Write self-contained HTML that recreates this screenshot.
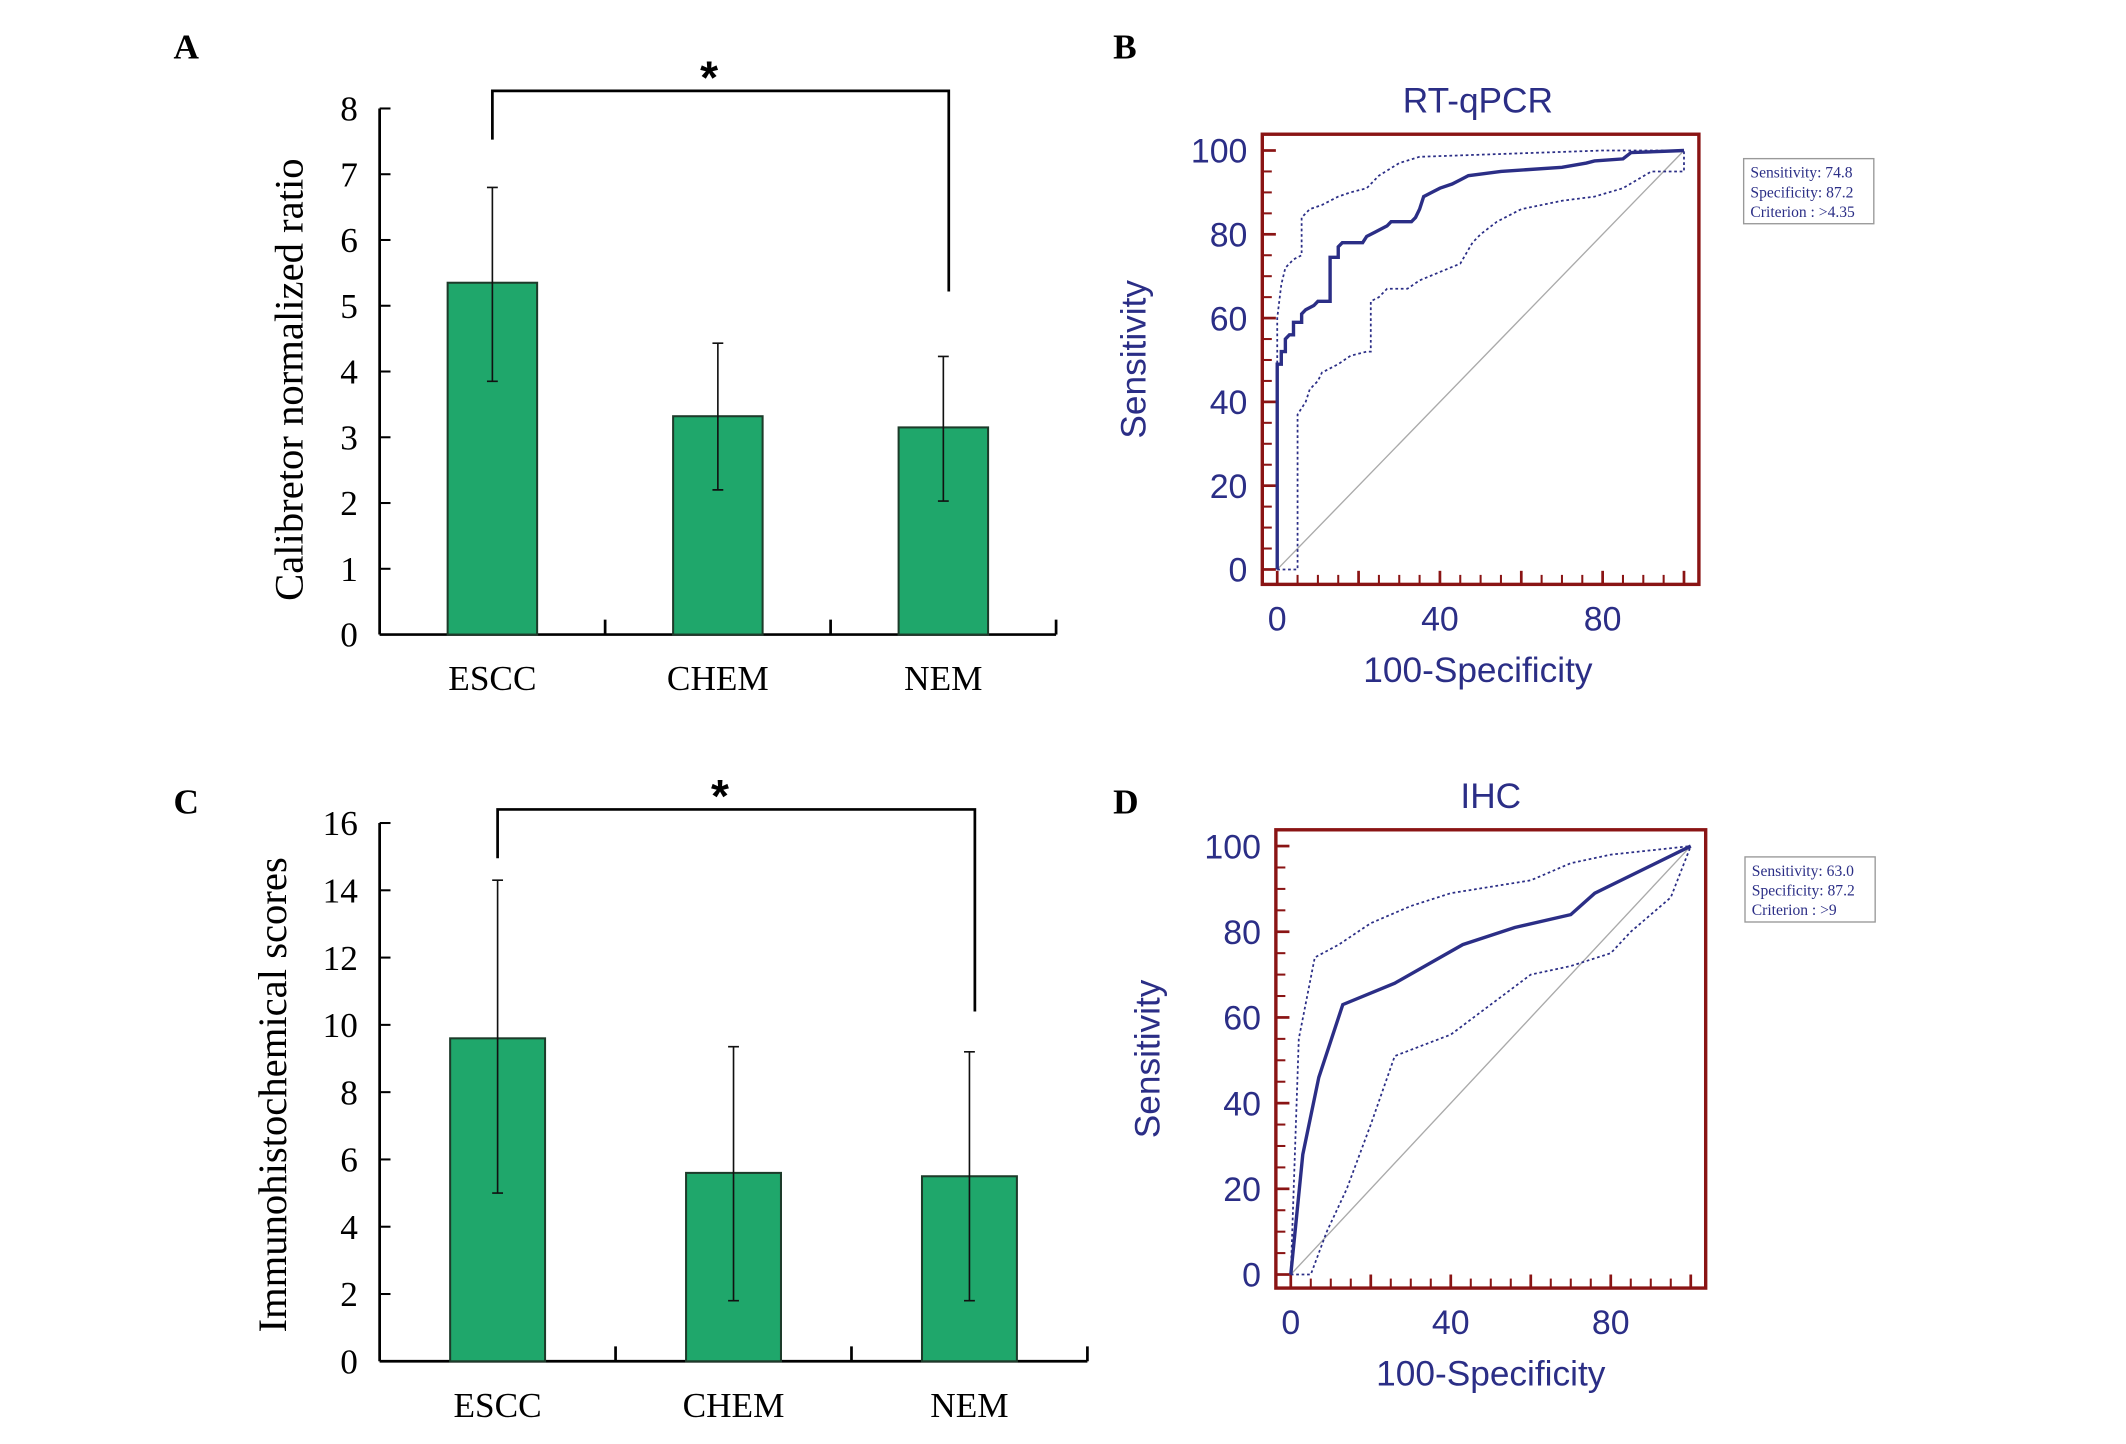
<!DOCTYPE html>
<html><head><meta charset="utf-8"><style>
html,body{margin:0;padding:0;background:#fff;}
svg{display:block;}
.serif{font-family:"Liberation Serif",serif;}
.sans{font-family:"Liberation Sans",sans-serif;}
</style></head><body>
<svg id="fig" width="2126" height="1444" viewBox="0 0 1568 1065" preserveAspectRatio="none" xmlns="http://www.w3.org/2000/svg">
<rect width="1568" height="1065" fill="#fff"/>
<text class="serif" x="128" y="43" font-size="26" font-weight="bold">A</text>
<text class="serif" x="821" y="43" font-size="26" font-weight="bold">B</text>
<text class="serif" x="128" y="600" font-size="26" font-weight="bold">C</text>
<text class="serif" x="821" y="600" font-size="26" font-weight="bold">D</text>
<g id="gA"></g>
<g id="gC"></g>
<g id="gB"></g>
<g id="gD"></g>
</svg>
<script>
// Panel A data
const catsA = ["ESCC","CHEM","NEM"];
const valsA = [5.35, 3.32, 3.15];
const errLoA = [3.85, 2.2, 2.03];
const errHiA = [6.8, 4.43, 4.23];
const ticksA = [0,1,2,3,4,5,6,7,8];
// Panel C data
const catsC = ["ESCC","CHEM","NEM"];
const valsC = [9.6, 5.6, 5.5];
const errLoC = [5.0, 1.8, 1.8];
const errHiC = [14.3, 9.35, 9.2];
const ticksC = [0,2,4,6,8,10,12,14,16];
// Panel B ROC data
const rocBx = [0,0,1,1,2,2,3,4,4,6,6,7,9,10,13,13,15,15,16,21,22,24,25,27,28,33,34,35,36,38,40,43,45,47,51,55,70,76,78,85,87,100];
const rocBy = [0,49,49,52,52,55,56,56,59,59,61,62,63,64,64,74.5,74.5,77,78,78,79.5,80.5,81,82,83,83,84,86,89,90,91,92,93,94,94.5,95,96,97,97.5,98,99.5,100];
const upBx = [0,0,1,2,4,6,6,8,11,15,18,22,25,30,35,50,80,100];
const upBy = [0,60,68,72,74,75,84,86,87,89,90,91,94,97,98.5,99,100,100];
const loBx = [0,5,5,7,8,10,11,15,18,22,23,23,25,27,32,35,40,45,48,50,54,60,70,78,85,92,100,100];
const loBy = [0,0,37,40,43,45,47,49,51,52,52,64,65,67,67,69,71,73,78,80,83,86,88,89,91,95,95,100];
// Panel D ROC data
const rocDx = [0,3,7,13,26,43,56,70,76,100];
const rocDy = [0,28,46,63,68,77,81,84,89,100];
const upDx = [0,2,6,12,20,30,40,60,70,80,100];
const upDy = [0,55,74,77,82,86,89,92,96,98,100];
const loDx = [0,5,9,14,20,26,40,50,60,70,80,85,95,100];
const loDy = [0,0,10,20,35,51,56,63,70,72,75,80,88,100];
const rocTicks = [0,20,40,60,80,100];
const rocXTicks = [0,40,80];

const NS="http://www.w3.org/2000/svg";
function mk(parent,tag,attrs,text){const e=document.createElementNS(NS,tag);for(const k in attrs)e.setAttribute(k,attrs[k]);if(text!==undefined)e.textContent=text;parent.appendChild(e);return e;}

function barChart(gid,cfg,cats,vals,lo,hi,ticks){
  const g=document.getElementById(gid);
  const yS=v=>cfg.y0-(v-cfg.vmin)*(cfg.y0-cfg.ytop)/(cfg.vmax-cfg.vmin);
  const xS=i=>cfg.x0+cfg.step*(i+0.5);
  let l=mk(g,'line',{x1:cfg.x0,y1:cfg.ytop,x2:cfg.x0,y2:cfg.y0,stroke:'#000','stroke-width':2});
  
  
  l=mk(g,'line',{x1:cfg.x0,y1:cfg.y0,x2:cfg.x0+cfg.step*cats.length,y2:cfg.y0,stroke:'#000','stroke-width':2});
  
  
  for(let i=1;i<=cats.length;i++){
    mk(g,'line',{x1:cfg.x0+cfg.step*i,y1:cfg.y0,x2:cfg.x0+cfg.step*i,y2:cfg.y0-11,stroke:'#000','stroke-width':2});
  }
  ticks.forEach(t=>{
    mk(g,'line',{x1:cfg.x0,y1:yS(t),x2:cfg.x0+8,y2:yS(t),stroke:'#000','stroke-width':1.5});
    const tx=mk(g,'text',{x:cfg.x0-16,y:yS(t)+9,'text-anchor':'end','font-size':26,class:'serif'},String(t));
    
    
  });
  const yt=mk(g,'text',{x:0,y:0,'text-anchor':'middle','font-size':30,class:'serif',transform:`translate(${cfg.titleX},${(cfg.ytop+cfg.y0)/2+cfg.titleDy}) rotate(-90)`},cfg.title);
  
  
  cats.forEach((c,i)=>{
    const cx=xS(i);
    const b=mk(g,'rect',{x:cx-cfg.bw/2,y:yS(vals[i]),width:cfg.bw,height:cfg.y0-yS(vals[i]),fill:'#1fa76b',stroke:'#1d3b2a','stroke-width':1.5});
    
    
    const e=mk(g,'path',{d:`M${cx-4},${yS(hi[i])}H${cx+4}M${cx},${yS(hi[i])}V${yS(lo[i])}M${cx-4},${yS(lo[i])}H${cx+4}`,stroke:'#111','stroke-width':1.2,fill:'none'});
    
    
    const t=mk(g,'text',{x:cx,y:cfg.labelY,'text-anchor':'middle','font-size':26,class:'serif'},c);
    
    
  });
  const br=mk(g,'path',{d:`M${xS(0)},${cfg.brL}V${cfg.brY}H${xS(2)+4}V${cfg.brR}`,stroke:'#000','stroke-width':2,fill:'none'});
  
  
  const st=mk(g,'text',{x:cfg.starX,y:cfg.brY+2,'text-anchor':'middle','font-size':34,'font-weight':'bold',class:'sans'},'*');
  
  
}
barChart('gA',{x0:280,y0:468,ytop:80,vmin:0,vmax:8,step:166.3,bw:66,title:'Calibretor normalized ratio',titleX:223,titleDy:6,labelY:509,brY:67,brL:103,brR:215,starX:523},catsA,valsA,errLoA,errHiA,ticksA);
barChart('gC',{x0:280,y0:1004,ytop:607,vmin:0,vmax:16,step:174,bw:70,title:'Immunohistochemical scores',titleX:211,titleDy:2,labelY:1045,brY:597,brL:633,brR:746,starX:531},catsC,valsC,errLoC,errHiC,ticksC);

function rocChart(gid,cfg,mx,my,ux,uy,lx,ly){
  const g=document.getElementById(gid);
  const xS=v=>cfg.px0+v*(cfg.px100-cfg.px0)/100;
  const yS=v=>cfg.py0-v*(cfg.py0-cfg.py100)/100;
  const navy='#2b2e86', red='#8a1414';
  const fr=mk(g,'rect',{x:cfg.fx,y:cfg.fy,width:cfg.fw,height:cfg.fh,fill:'none',stroke:red,'stroke-width':2.5});
  
  
  for(let v=0;v<=100;v+=5){
    const maj=v%20===0;
    mk(g,'line',{x1:cfg.fx,y1:yS(v),x2:cfg.fx+(maj?10:7),y2:yS(v),stroke:red,'stroke-width':maj?2:1.5});
    mk(g,'line',{x1:xS(v),y1:cfg.fy+cfg.fh,x2:xS(v),y2:cfg.fy+cfg.fh-(maj?10:7),stroke:red,'stroke-width':maj?2:1.5});
  }
  rocTicks.forEach(t=>{
    const tx=mk(g,'text',{x:cfg.fx-11,y:yS(t)+9,'text-anchor':'end','font-size':25,fill:navy,class:'sans'},String(t));
    
    
  });
  rocXTicks.forEach(t=>{
    const tx=mk(g,'text',{x:xS(t),y:cfg.fy+cfg.fh+34,'text-anchor':'middle','font-size':25,fill:navy,class:'sans'},String(t));
    
    
  });
  const cx=(cfg.fx+cfg.fx+cfg.fw)/2+cfg.tdx;
  let t=mk(g,'text',{x:cx,y:cfg.fy-16,'text-anchor':'middle','font-size':26,fill:navy,class:'sans'},cfg.title);
  
  
  t=mk(g,'text',{x:cx,y:cfg.fy+cfg.fh+72,'text-anchor':'middle','font-size':26,fill:navy,class:'sans'},'100-Specificity');
  
  
  t=mk(g,'text',{x:0,y:0,'text-anchor':'middle','font-size':26,fill:navy,class:'sans',transform:`translate(${cfg.stx},${cfg.fy+cfg.fh/2}) rotate(-90)`},'Sensitivity');
  
  
  let d=mk(g,'line',{x1:xS(0),y1:yS(0),x2:xS(100),y2:yS(100),stroke:'#aaa','stroke-width':1});
  
  
  const pts=(xs,ys)=>xs.map((x,i)=>xS(x)+','+yS(ys[i])).join(' ');
  d=mk(g,'polyline',{points:pts(ux,uy),fill:'none',stroke:navy,'stroke-width':1.3,'stroke-dasharray':'2,2'});
  
  
  d=mk(g,'polyline',{points:pts(lx,ly),fill:'none',stroke:navy,'stroke-width':1.3,'stroke-dasharray':'2,2'});
  
  
  d=mk(g,'polyline',{points:pts(mx,my),fill:'none',stroke:navy,'stroke-width':2.5});
  
  
  const lg=mk(g,'g',{});
  
  
  mk(lg,'rect',{x:cfg.lx,y:cfg.ly,width:96,height:48,fill:'#fff',stroke:'#999','stroke-width':1});
  cfg.legend.forEach((s,i)=>mk(lg,'text',{x:cfg.lx+5,y:cfg.ly+14+i*14.5,'font-size':11.5,fill:navy,class:'serif'},s));
}
rocChart('gB',{fx:931,fy:99,fw:322,fh:332,px0:942,px100:1242,py0:420,py100:111,tdx:-2,title:'RT-qPCR',stx:845,lx:1286,ly:117,legend:['Sensitivity: 74.8','Specificity: 87.2','Criterion : >4.35']},rocBx,rocBy,upBx,upBy,loBx,loBy);
rocChart('gD',{fx:941,fy:612,fw:317,fh:338,px0:952,px100:1247,py0:940,py100:624,tdx:0,title:'IHC',stx:855,lx:1287,ly:632,legend:['Sensitivity: 63.0','Specificity: 87.2','Criterion : >9']},rocDx,rocDy,upDx,upDy,loDx,loDy);
</script>
</body></html>
